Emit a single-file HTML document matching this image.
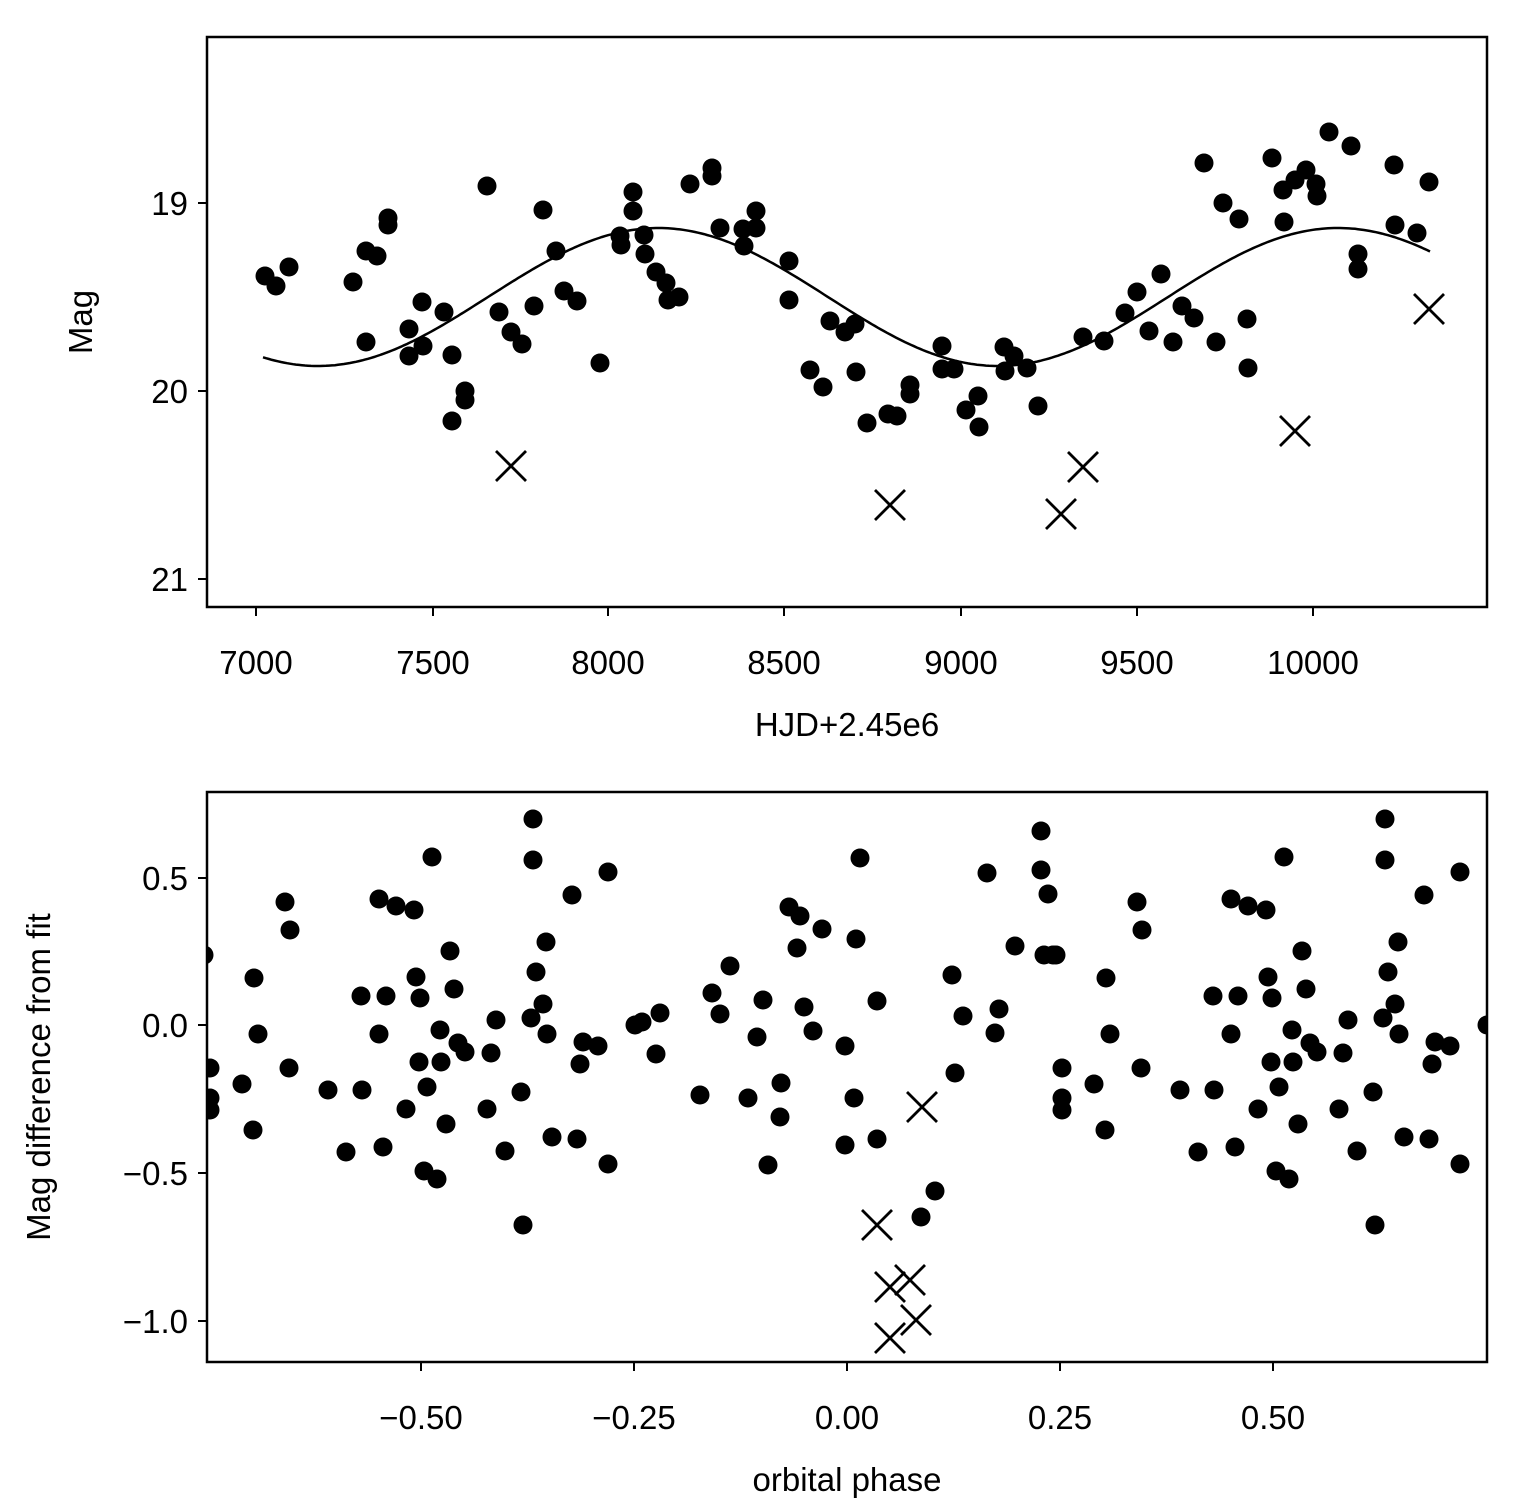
<!DOCTYPE html>
<html><head><style>body{margin:0;background:#fff}svg{display:block}text{font-family:"Liberation Sans",sans-serif;font-size:33px;fill:#000}</style></head>
<body>
<svg width="1528" height="1506" viewBox="0 0 1528 1506">
<defs>
<clipPath id="c1"><rect x="207" y="37" width="1280" height="570"/></clipPath>
<clipPath id="c2"><rect x="207" y="792" width="1280" height="570"/></clipPath>
<g id="x"><path d="M-15,-15L15,15M-15,15L15,-15" stroke="#000" stroke-width="2.8"/></g>
</defs>
<g clip-path="url(#c1)" id="top"></g>
<g clip-path="url(#c2)" id="bot"></g>
<rect x="207" y="37" width="1280" height="570" fill="none" stroke="#000" stroke-width="2.5"/>
<rect x="207" y="792" width="1280" height="570" fill="none" stroke="#000" stroke-width="2.5"/>
<g stroke="#000" stroke-width="2">
<path d="M256,607v9M433,607v9M608,607v9M784,607v9M961,607v9M1137,607v9M1313,607v9"/>
<path d="M207,203h-9M207,391h-9M207,579h-9"/>
<path d="M421,1362v9M634,1362v9M847,1362v9M1060,1362v9M1273,1362v9"/>
<path d="M207,878h-9M207,1025h-9M207,1173h-9M207,1321h-9"/>
</g>
<g text-anchor="middle">
<text x="256" y="674">7000</text><text x="433" y="674">7500</text><text x="608" y="674">8000</text><text x="784" y="674">8500</text><text x="961" y="674">9000</text><text x="1137" y="674">9500</text><text x="1313" y="674">10000</text>
<text x="847" y="736">HJD+2.45e6</text>
<text x="421" y="1429">−0.50</text><text x="634" y="1429">−0.25</text><text x="847" y="1429">0.00</text><text x="1060" y="1429">0.25</text><text x="1273" y="1429">0.50</text>
<text x="847" y="1491">orbital phase</text>
</g>
<g text-anchor="end">
<text x="188" y="215">19</text><text x="188" y="403">20</text><text x="188" y="591">21</text>
<text x="188" y="890">0.5</text><text x="188" y="1037">0.0</text><text x="188" y="1185">−0.5</text><text x="188" y="1333">−1.0</text>
</g>
<text transform="translate(92,322) rotate(-90)" text-anchor="middle">Mag</text>
<text transform="translate(50,1077) rotate(-90)" text-anchor="middle">Mag difference from fit</text>
</svg>
<script>
var NS="http://www.w3.org/2000/svg";
function dots(g,a){for(var i=0;i<a.length;i+=2){var c=document.createElementNS(NS,"circle");c.setAttribute("cx",a[i]);c.setAttribute("cy",a[i+1]);c.setAttribute("r",9.5);g.appendChild(c);}}
function xs(g,a){for(var i=0;i<a.length;i+=2){var u=document.createElementNS(NS,"use");u.setAttribute("href","#x");u.setAttribute("x",a[i]);u.setAttribute("y",a[i+1]);g.appendChild(u);}}
var T=document.getElementById("top"),B=document.getElementById("bot");
var d="";for(var x=263;x<=1430;x+=3){var y=297+69*Math.cos(2*Math.PI*(x-318)/680);d+=(x==263?"M":"L")+x+","+y.toFixed(1);}
var p=document.createElementNS(NS,"path");p.setAttribute("d",d);p.setAttribute("fill","none");p.setAttribute("stroke","#000");p.setAttribute("stroke-width","2.5");T.appendChild(p);
dots(T,[265,276,276,286,289,267,353,282,366,342,366,251,377,256,388,218,388,225,409,329,409,356,422,302,423,346,444,312,452,355,452,421,465,391,465,400,487,186,499,312,511,332,522,344,534,306,543,210,556,251,564,291,577,301,600,363,620,236,621,245,633,192,633,211,644,235,645,254,656,272,666,283,668,300,679,297,690,184,712,176,712,168,720,228,743,229,744,246,756,211,756,228,789,261,789,300,810,370,823,387,830,321,845,332,855,324,856,372,867,423,888,414,897,416,910,385,910,394,942,346,942,369,954,369,966,410,978,396,979,427,1004,347,1005,371,1014,356,1027,368,1038,406,1083,337,1104,341,1125,313,1137,292,1149,331,1161,274,1173,342,1182,306,1194,318,1204,163,1223,203,1239,219,1216,342,1247,319,1248,368,1272,158,1283,190,1284,222,1295,180,1306,170,1316,184,1317,196,1329,132,1351,146,1358,254,1358,269,1394,165,1395,225,1417,233,1429,182]);
xs(T,[511,466,890,505,1061,514,1083,467,1295,431,1429,309]);
var base=[204,955,210,1068,210,1098,210,1110,242,1084,253,1130,254,978,258,1034,285,902,290,930,289,1068,328,1090,346,1152,361,996,362,1090,379,899,379,1034,383,1147,386,996,396,906,406,1109,414,910,416,977,419,1062,420,998,424,1171,427,1087,432,857,437,1179,440,1030,441,1062,446,1124,450,951,454,989,458,1043,465,1052,487,1109,491,1053,496,1020,505,1151,521,1092,523,1225,531,1018,533,819,533,860,536,972,543,1004,547,1034,546,942,552,1137,572,895,577,1139,580,1064,583,1042,598,1046,608,1164,608,872,635,1025];
var all=[];for(var i=0;i<base.length;i+=2){all.push(base[i],base[i+1],base[i]+852,base[i+1]);}
all=all.concat([642,1022,656,1054,660,1013,700,1095,712,993,720,1014,730,966,748,1098,757,1037,763,1000,768,1165,781,1083,780,1117,789,907,797,948,800,916,804,1007,813,1031,822,929,845,1046,845,1145,854,1098,856,939,860,858,877,1139,877,1001,921,1217,935,1191,952,975,955,1073,963,1016,987,873,995,1033,999,1009,1015,946,1041,831,1041,870,1048,894,1044,955,1053,955]);
dots(B,all);
xs(B,[877,1225,890,1287,890,1338,910,1280,916,1320,922,1107]);
</script>
</body></html>
